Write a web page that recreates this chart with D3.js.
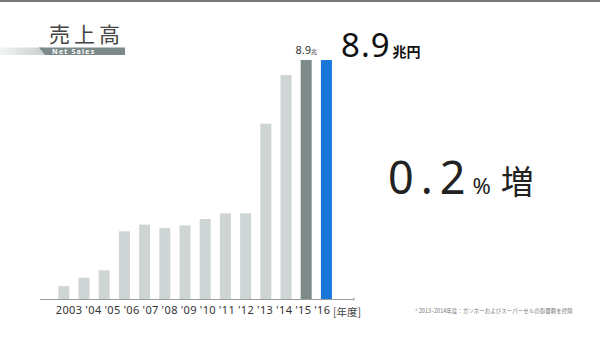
<!DOCTYPE html>
<html>
<head>
<meta charset="utf-8">
<script src="https://cdnjs.cloudflare.com/ajax/libs/d3/7.8.5/d3.min.js"></script>
<style>
  body { margin: 0; background: #fff; }
  svg { display: block; }
  text { font-family: "Noto Sans", "Noto Sans CJK JP", sans-serif; }
  .jp { font-family: "Noto Sans CJK JP", "Noto Sans", sans-serif; }
</style>
</head>
<body>
<svg></svg>
<script>
// net sales, trillion yen
var years = ['2003', "'04", "'05", "'06", "'07", "'08", "'09", "'10", "'11", "'12", "'13", "'14", "'15", "'16"];
var sales = [0.48, 0.79, 1.07, 2.52, 2.77, 2.64, 2.74, 2.98, 3.19, 3.19, 6.53, 8.34, 8.9, 8.9];
var barColors = ['#cfd5d5', '#cfd5d5', '#cfd5d5', '#cfd5d5', '#cfd5d5', '#cfd5d5', '#cfd5d5',
                 '#cfd5d5', '#cfd5d5', '#cfd5d5', '#cfd5d5', '#cfd5d5', '#7e8b8b', '#1877d8'];

var width = 600;
var height = 337;
var svg = d3.select('svg')
			.attr('width', width)
			.attr('height', height);

var baseY = 299;

var xScale = d3.scaleBand()
			   .domain(years)
			   .range([53.7, 336.5])
			   .paddingInner(0.455)
			   .paddingOuter(0.2275);

// labels run on a slightly tighter step than the bars
var xLabel = d3.scalePoint()
			   .domain(years)
			   .range([82, 330]);

var yScale = d3.scaleLinear()
			   .domain([0, 8.9])
			   .range([baseY, 60]);

// top border
svg.append('rect')
   .attr('x', 0).attr('y', 0)
   .attr('width', width).attr('height', 2)
   .attr('fill', '#777');

// header band
var defs = svg.append('defs');
var grad = defs.append('linearGradient').attr('id', 'band');
grad.append('stop').attr('offset', '0%').attr('stop-color', '#f2f4f4');
grad.append('stop').attr('offset', '100%').attr('stop-color', '#c9d0d0');
svg.append('rect')
   .attr('x', 0).attr('y', 47.5)
   .attr('width', 44).attr('height', 7.5)
   .attr('fill', 'url(#band)');
svg.append('path')
   .attr('d', 'M39,47.5 L125,47.5 L125,55 L45,55 Z')
   .attr('fill', '#7d8a8a');
svg.append('text')
   .attr('x', 52).attr('y', 54)
   .attr('font-size', 7)
   .attr('font-weight', 'bold')
   .attr('letter-spacing', 1.2)
   .attr('fill', '#fff')
   .text('Net Sales');

svg.append('text')
   .attr('class', 'jp')
   .attr('x', 49).attr('y', 42)
   .attr('font-size', 21)
   .attr('letter-spacing', 4)
   .attr('fill', '#444')
   .text('売上高');

// bars
svg.selectAll('rect.bar')
	.data(sales)
	.enter()
	.append('rect')
	.attr('class', 'bar')
	.attr('x', (d, i) => xScale(years[i]))
	.attr('y', d => yScale(d))
	.attr('width', xScale.bandwidth())
	.attr('height', d => baseY - yScale(d))
	.attr('fill', (d, i) => barColors[i]);

// baseline
svg.append('line')
   .attr('x1', 40).attr('x2', 354)
   .attr('y1', baseY + 0.5).attr('y2', baseY + 0.5)
   .attr('stroke', '#9aa0a0')
   .attr('stroke-width', 1);
svg.append('line')
   .attr('x1', 354).attr('x2', 354)
   .attr('y1', baseY - 1.5).attr('y2', baseY + 1.5)
   .attr('stroke', '#9aa0a0');

// x axis labels
var xAxis = svg.append('g')
	.attr('class', 'x-axis')
	.attr('transform', 'translate(0,' + (baseY + 3) + ')')
	.call(d3.axisBottom(xLabel).tickSize(0).tickSizeOuter(0).tickPadding(4));
xAxis.select('.domain').remove();
xAxis.selectAll('text')
	.attr('text-anchor', 'end')
	.attr('font-size', 11)
	.attr('letter-spacing', 0.4)
	.attr('font-family', '"Noto Sans", sans-serif')
	.attr('fill', '#333');

svg.append('text')
   .attr('class', 'jp')
   .attr('x', 333).attr('y', 316)
   .attr('font-size', 10.5)
   .attr('fill', '#444')
   .text('[年度]');

// label above '15 bar
var last = years.length - 2;
var lbl = svg.append('text')
   .attr('x', xScale(years[last]) + xScale.bandwidth() / 2)
   .attr('y', yScale(sales[last]) - 6)
   .attr('text-anchor', 'middle')
   .attr('fill', '#333');
lbl.append('tspan').attr('font-size', 11).text(sales[last].toFixed(1));
lbl.append('tspan').attr('class', 'jp').attr('font-size', 6).text('兆');

// big value
var big = svg.append('text')
   .attr('x', 341).attr('y', 57)
   .attr('fill', '#111');
big.append('tspan').attr('font-size', 33).attr('letter-spacing', 1).text(sales[sales.length - 1].toFixed(1));
big.append('tspan').attr('class', 'jp').attr('font-size', 14).attr('font-weight', 'bold').attr('dx', 2).text('兆円');

// growth
var gr = svg.append('text')
   .attr('x', 388).attr('y', 194)
   .attr('fill', '#222');
gr.append('tspan').attr('font-size', 45).attr('letter-spacing', 7).text('0.2');
gr.append('tspan').attr('font-size', 22).attr('dx', 0).text('%');
gr.append('tspan').attr('class', 'jp').attr('font-size', 33).attr('dx', 10).text('増');

// footnote
svg.append('text')
   .attr('class', 'jp')
   .attr('x', 415).attr('y', 313)
   .attr('font-size', 5.5)
   .attr('fill', '#777')
   .text('* 2013~2014年度：ガンホーおよびスーパーセルの影響額を控除');
</script>
</body>
</html>
